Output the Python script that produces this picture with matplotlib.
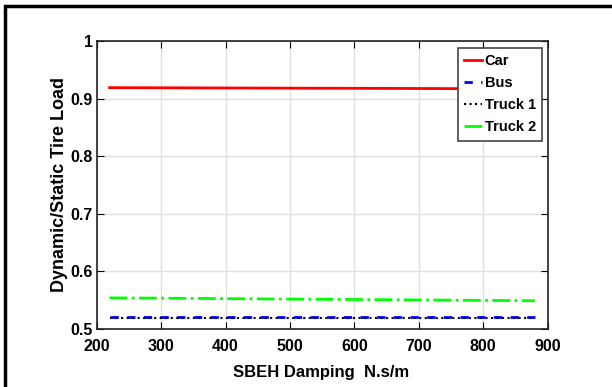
import matplotlib.pyplot as plt
from matplotlib.patches import Rectangle

damping = [220, 330, 440, 550, 660, 770, 880]
car = [0.919, 0.9187, 0.9183, 0.918, 0.9177, 0.9173, 0.917]
bus = [0.52, 0.52, 0.52, 0.52, 0.52, 0.52, 0.52]
truck1 = [0.5195, 0.5195, 0.5195, 0.5195, 0.5195, 0.5195, 0.5195]
truck2 = [0.554, 0.5532, 0.5523, 0.5515, 0.5507, 0.5498, 0.549]

plt.rcParams['font.family'] = ['Liberation Sans', 'DejaVu Sans']

fig = plt.figure(figsize=(6.12, 3.87), dpi=100)
ax = fig.add_axes([0.158, 0.150, 0.737, 0.744])

ax.plot(damping, car, label='Car', color='red', linewidth=2)
ax.plot(damping, bus, label='Bus', color='blue', linestyle=(0, (3, 3)), linewidth=2)
ax.plot(damping, truck1, label='Truck 1', color='black', linestyle=':', linewidth=1.5)
ax.plot(damping, truck2, label='Truck 2', color='#00ff00', linestyle='-.', linewidth=2)

ax.set_xlim(200, 900)
ax.set_ylim(0.5, 1.0)
ax.set_xticks([200, 300, 400, 500, 600, 700, 800, 900])
ax.set_yticks([0.5, 0.6, 0.7, 0.8, 0.9, 1.0])
ax.set_yticklabels(['0.5', '0.6', '0.7', '0.8', '0.9', '1'])
ax.grid(True, color='#e0e0e0', linewidth=1)
ax.tick_params(direction='in', top=True, right=True, length=5, labelsize=11.5)
ax.tick_params(axis='x', pad=7)
ax.tick_params(axis='y', pad=3)
for lbl in ax.get_xticklabels() + ax.get_yticklabels():
    lbl.set_fontweight('bold')
for s in ax.spines.values():
    s.set_linewidth(1.2)
    s.set_color('#222222')

ax.set_xlabel('SBEH Damping  N.s/m', fontsize=12, fontweight='bold')
ax.xaxis.set_label_coords(0.497, -0.125)
ax.set_ylabel('Dynamic/Static Tire Load', fontsize=13, fontweight='bold')
ax.yaxis.set_label_coords(-0.064, 0.5)

leg = ax.legend(loc='upper right', bbox_to_anchor=(0.988, 0.977),
                prop={'weight': 'bold', 'size': 10.5}, fancybox=False, framealpha=1,
                handlelength=1.2, handletextpad=0.2, borderpad=0.45, labelspacing=0.55,
                borderaxespad=0)
leg.get_frame().set_edgecolor('#444444')
leg.get_frame().set_linewidth(1.2)

fig.patches.append(Rectangle((5 / 612, -0.05), 1.2, 1 - 6 / 387 + 0.05,
                             transform=fig.transFigure, fill=False,
                             edgecolor='black', linewidth=2.5))

fig.savefig('out.png', dpi=100)
